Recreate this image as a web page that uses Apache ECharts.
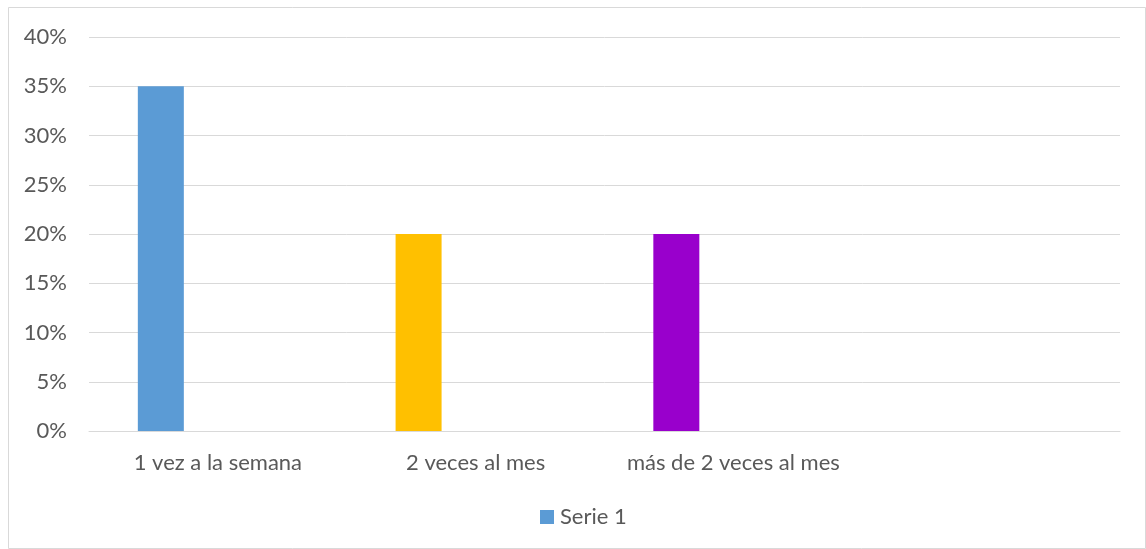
<!DOCTYPE html>
<html>
<head>
<meta charset="utf-8">
<script src="https://cdn.jsdelivr.net/npm/echarts@6/dist/echarts.min.js"></script>
<style>html,body{margin:0;padding:0;background:#fff;}#c{width:1146px;height:549px;}</style>
</head>
<body>
<div id="c"></div>
<script>
const categories = ['1 vez a la semana', '2 veces al mes', 'más de 2 veces al mes', ''];
const serie1 = [0.35, 0.20, 0.20, null];
const barColors = ['#5b9bd5', '#ffc000', '#9900cc', '#5b9bd5'];
const yTicks = [0, 0.05, 0.10, 0.15, 0.20, 0.25, 0.30, 0.35, 0.40];

const chart = echarts.init(document.getElementById('c'), null, {renderer: 'canvas'});
const font = 'Lato, "Open Sans", sans-serif';
chart.setOption({
  animation: false,
  backgroundColor: '#fff',
  textStyle: {fontFamily: font},
  graphic: [{
    type: 'rect', shape: {x: 8.5, y: 7.5, width: 1137, height: 541},
    style: {fill: 'none', stroke: '#d9d9d9', lineWidth: 1}, silent: true
  }],
  grid: {left: 89, right: 26, top: 37, bottom: 118},
  legend: {
    data: ['Serie 1'], top: 501, left: 535,
    itemWidth: 14, itemHeight: 14, icon: 'rect', itemGap: 10,
    textStyle: {fontFamily: font, fontSize: 22, color: '#595959', padding: [0, 0, 0, 1]}
  },
  xAxis: {
    type: 'category', data: categories,
    axisLine: {lineStyle: {color: '#d9d9d9', width: 1}},
    axisTick: {show: false},
    axisLabel: {fontFamily: font, fontSize: 22, color: '#595959', margin: 21, interval: 0}
  },
  yAxis: {
    type: 'value', min: 0, max: 0.4, interval: 0.05,
    axisLine: {show: false}, axisTick: {show: false},
    splitLine: {lineStyle: {color: '#d9d9d9', width: 1}},
    axisLabel: {fontFamily: font, fontSize: 22, color: '#595959', margin: 22,
      formatter: v => Math.round(v * 100) + '%'}
  },
  series: [
    {
      name: 'Serie 1', type: 'bar', barWidth: 46, barGap: '148%',
      itemStyle: {color: '#5b9bd5'},
      data: serie1.map((v, i) => ({value: v, itemStyle: {color: barColors[i]}}))
    },
    {
      name: '_pad', type: 'bar', barWidth: 46, data: categories.map(() => null)
    }
  ]
});
</script>
</body>
</html>
